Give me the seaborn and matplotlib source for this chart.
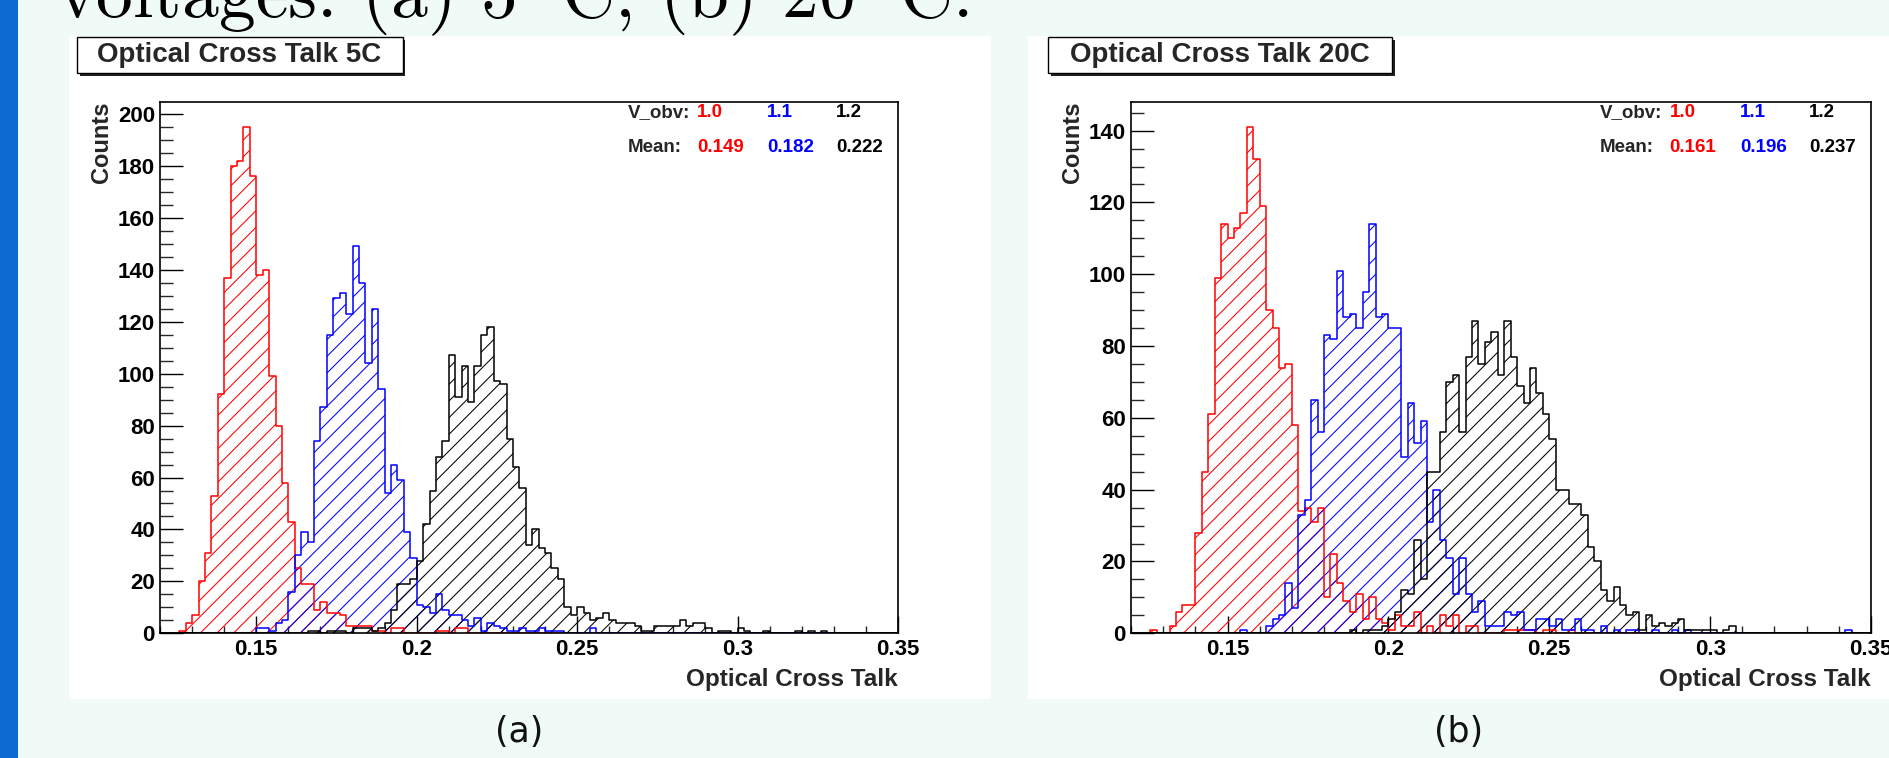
import numpy as np
import pandas as pd
import matplotlib
matplotlib.use("Agg")
import matplotlib.pyplot as plt
from matplotlib.patches import Rectangle
from matplotlib.ticker import MultipleLocator, FixedLocator
import seaborn as sns

# ---------------- histogram contents (bin width 0.002) ----------------
bin_width = 0.002
x_lo, x_hi = 0.12, 0.35

voltages = ["1.0", "1.1", "1.2"]
series_colors = ["#ff0000", "#0000ff", "#000000"]

# 5 C run
red_5c_start = 0.126
red_5c = [1, 4, 7, 20, 31, 53, 92, 137, 180, 182, 195, 176, 138, 140, 99, 80,
          58, 43, 25, 19, 19, 9, 12, 8, 8, 7, 3, 3, 3, 3, 1, 1, 0, 2, 2, 0,
          0, 0, 0, 0, 1, 1, 0, 2, 2]
blue_5c_start = 0.150
blue_5c = [2, 2, 1, 4, 5, 16, 30, 39, 35, 74, 87, 115, 129, 131, 123, 149,
           135, 104, 125, 94, 54, 65, 59, 39, 29, 11, 10, 8, 15, 9, 7, 7, 5,
           3, 6, 1, 4, 3, 2, 1, 1, 2, 1, 1, 2, 1, 1, 1, 0, 0, 0, 0, 2]
black_5c_start = 0.166
black_5c = [1, 1, 0, 1, 1, 1, 0, 2, 2, 2, 1, 2, 4, 9, 19, 19, 21, 28, 42, 55,
            68, 74, 107, 91, 103, 89, 103, 115, 118, 97, 96, 75, 64, 56, 34,
            40, 33, 31, 25, 21, 10, 7, 10, 8, 5, 6, 8, 5, 4, 4, 4, 3, 1, 1, 3,
            3, 3, 3, 5, 3, 4, 4, 2, 0, 1, 1, 0, 2, 1, 0, 0, 1, 0, 0, 0, 0, 1,
            0, 1, 0, 1]
means_5c = ["0.149", "0.182", "0.222"]

# 20 C run
red_20c_start = 0.126
red_20c = [1, 0, 0, 2, 6, 8, 8, 28, 45, 61, 99, 114, 110, 113, 117, 141, 132,
           119, 90, 85, 74, 75, 58, 34, 35, 31, 35, 10, 22, 14, 9, 6, 11, 4,
           10, 4, 3, 1, 5, 2, 2, 6, 0, 2, 0, 5, 2, 5, 0, 2, 2, 0, 0, 0, 0, 1,
           1, 1, 1, 1, 0, 1, 1, 0, 0, 1]
blue_20c_start = 0.154
blue_20c = [1, 0, 0, 0, 2, 4, 5, 14, 7, 33, 37, 65, 56, 83, 82, 101, 88, 89,
            85, 95, 114, 88, 89, 85, 85, 49, 64, 53, 59, 31, 40, 26, 21, 11,
            21, 11, 6, 9, 2, 2, 2, 6, 5, 6, 1, 1, 4, 4, 2, 4, 1, 1, 4, 1, 1,
            0, 2, 0, 1, 0, 1, 1, 0, 0, 1, 0, 0, 1, 0, 1,
            0, 0, 0, 0, 0, 0, 0, 0, 0, 0, 0, 0, 0, 0, 0, 0, 0, 0, 0, 0, 0, 0,
            0, 0, 1]
black_20c_start = 0.186
black_20c = [0, 1, 0, 1, 1, 1, 2, 4, 6, 12, 11, 26, 15, 45, 45, 56, 70, 72, 56,
             77, 87, 75, 81, 84, 72, 87, 77, 69, 64, 74, 67, 61, 54, 40, 40, 36,
             36, 33, 24, 20, 12, 9, 13, 8, 5, 6, 1, 5, 2, 3, 2, 3, 4, 1, 1, 1,
             1, 1, 0, 1, 2]
means_20c = ["0.161", "0.196", "0.237"]

x_ticks = [0.15, 0.2, 0.25, 0.3, 0.35]
x_tick_labels = ["0.15", "0.2", "0.25", "0.3", "0.35"]

panels = [
    dict(title="Optical Cross Talk 5C", tag="(a)",
         series=[(red_5c_start, red_5c), (blue_5c_start, blue_5c),
                 (black_5c_start, black_5c)],
         means=means_5c),
    dict(title="Optical Cross Talk 20C", tag="(b)",
         series=[(red_20c_start, red_20c), (blue_20c_start, blue_20c),
                 (black_20c_start, black_20c)],
         means=means_20c),
]

# ---------------- style ----------------
sns.set_theme(style="white")
plt.rcParams["font.family"] = ["Liberation Sans", "DejaVu Sans"]
plt.rcParams["font.weight"] = "bold"
plt.rcParams["mathtext.fontset"] = "cm"
plt.rcParams["hatch.linewidth"] = 0.75
plt.rcParams["axes.edgecolor"] = "black"
plt.rcParams["axes.linewidth"] = 1.2

W, H = 1890, 758
fig = plt.figure(figsize=(W / 100, H / 100), dpi=100)
fig.patch.set_facecolor("#f0faf6")


def fx(px):
    return px / W


def fy(py):
    return 1 - py / H


# slide decorations
fig.add_artist(Rectangle((0, 0), fx(18), 1, transform=fig.transFigure,
                         facecolor="#0b6bd0", edgecolor="none", zorder=0))
fig.text(fx(57), fy(17),
         r"voltages: (a) 5$^{{}^\circ}$C, (b) 20$^{{}^\circ}$C.",
         family=["cmr10", "DejaVu Serif"], fontweight="normal",
         fontsize=53, color="black", va="baseline", ha="left")

panel_left = [69, 1028]
panel_right = [991, 1890]
axes_left = [160, 1131]
axes_width = [738, 740]
axes_top, axes_bottom = 101.7, 633.3
box_left = [76.5, 1048.3]
box_width = [326, 343.4]
tag_x = [519, 1459]

for k, p in enumerate(panels):
    # white canvas of the ROOT pad
    fig.add_artist(Rectangle((fx(panel_left[k]), fy(699)),
                             (panel_right[k] - panel_left[k]) / W, 663 / H,
                             transform=fig.transFigure, facecolor="white",
                             edgecolor="none", zorder=0))
    # title pave with shadow
    bx = box_left[k]
    fig.add_artist(Rectangle((fx(bx + 3), fy(73.3 + 3)), box_width[k] / W, 36 / H,
                             transform=fig.transFigure, facecolor="#222222",
                             edgecolor="none", zorder=1))
    fig.add_artist(Rectangle((fx(bx), fy(73.3)), box_width[k] / W, 36 / H,
                             transform=fig.transFigure, facecolor="white",
                             edgecolor="black", linewidth=1.0, zorder=2))
    fig.text(fx(bx + box_width[k] / 2), fy(55), p["title"], fontsize=20,
             ha="center", va="center", zorder=3)
    fig.text(fx(tag_x[k]), fy(732), p["tag"], fontsize=25, fontweight="normal",
             family=["DejaVu Sans"], ha="center", va="center", color="#111111")

    ax = fig.add_axes([fx(axes_left[k]), fy(axes_bottom), axes_width[k] / W,
                       (axes_bottom - axes_top) / H])
    ax.set_facecolor("white")

    ymax = 0
    for (start, counts), color in zip(p["series"], series_colors):
        centers = start + bin_width * (np.arange(len(counts)) + 0.5)
        frame = pd.DataFrame({"ct": centers, "n": np.asarray(counts, float)})
        # hatched body of the histogram
        sns.histplot(data=frame, x="ct", weights="n", binwidth=bin_width,
                     binrange=(x_lo, x_hi), element="step", fill=True,
                     color=color, facecolor="none", edgecolor=color,
                     hatch="//", linewidth=0, legend=False, ax=ax)
        # step outline
        sns.histplot(data=frame, x="ct", weights="n", binwidth=bin_width,
                     binrange=(x_lo, x_hi), element="step", fill=False,
                     color=color, linewidth=1.1, legend=False, ax=ax)
        ymax = max(ymax, max(counts))

    ax.set_xlim(x_lo, x_hi)
    ax.set_ylim(0, 1.05 * ymax)
    ax.set_xlabel("")
    ax.set_ylabel("")
    for s in ax.spines.values():
        s.set_visible(True)
        s.set_color("black")
        s.set_linewidth(1.2)

    ax.xaxis.set_major_locator(FixedLocator(x_ticks))
    ax.set_xticklabels(x_tick_labels)
    ax.xaxis.set_minor_locator(MultipleLocator(0.01))
    ax.yaxis.set_major_locator(MultipleLocator(20))
    ax.yaxis.set_minor_locator(MultipleLocator(5))
    ax.tick_params(axis="x", which="major", direction="in", length=12,
                   width=1.0, labelsize=16, pad=4, bottom=True, top=False,
                   colors="black")
    ax.tick_params(axis="x", which="minor", direction="in", length=5,
                   width=1.0, bottom=True, top=False)
    ax.tick_params(axis="y", which="major", direction="in", length=16.8,
                   width=1.0, labelsize=16, pad=3.6, left=True, right=False,
                   colors="black")
    ax.tick_params(axis="y", which="minor", direction="in", length=9,
                   width=1.0, left=True, right=False)
    for lab in ax.get_xticklabels() + ax.get_yticklabels():
        lab.set_fontweight("bold")

    ax.text(1.0, -0.087, "Optical Cross Talk", transform=ax.transAxes,
            fontsize=17.5, ha="right", va="center")
    ax.text(-0.079, 1.0, "Counts", transform=ax.transAxes, fontsize=17,
            rotation=90, ha="center", va="top")

    # statistics block
    col_x = [0.728, 0.8228, 0.916]
    ax.text(0.6337, 0.9707, "V_obv:", transform=ax.transAxes, fontsize=13.5,
            ha="left", va="baseline")
    ax.text(0.6337, 0.9059, "Mean:", transform=ax.transAxes, fontsize=13.5,
            ha="left", va="baseline")
    for cx, v, m, c in zip(col_x, voltages, p["means"], series_colors):
        ax.text(cx, 0.9707, v, transform=ax.transAxes, fontsize=13.5, color=c,
                ha="left", va="baseline")
        ax.text(cx, 0.9059, m, transform=ax.transAxes, fontsize=13.5, color=c,
                ha="left", va="baseline")

fig.savefig("out.png", dpi=100, facecolor=fig.get_facecolor())
